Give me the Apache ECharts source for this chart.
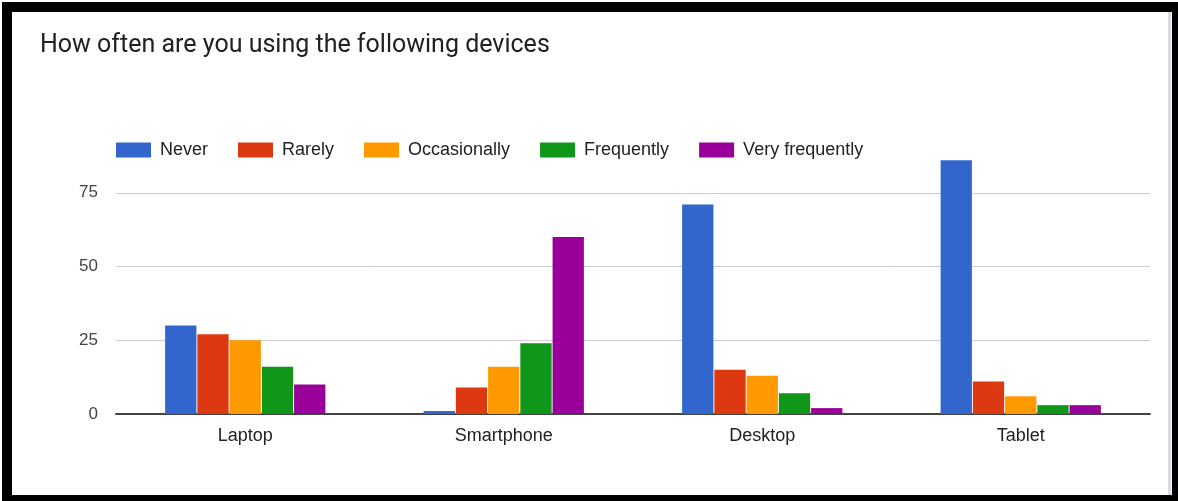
<!DOCTYPE html>
<html>
<head>
<meta charset="utf-8">
<script src="https://cdn.jsdelivr.net/npm/echarts@6/dist/echarts.min.js"></script>
<style>
html, body { margin: 0; padding: 0; background: #fff; }
#main { width: 1178px; height: 501px; }
</style>
</head>
<body>
<div id="main"></div>
<script>
// data
var devices = ['Laptop', 'Smartphone', 'Desktop', 'Tablet'];
var never = [30, 1, 71, 86];
var rarely = [27, 9, 15, 11];
var occasionally = [25, 16, 13, 6];
var frequently = [16, 24, 7, 3];
var veryFrequently = [10, 60, 2, 3];
var yTicks = [0, 25, 50, 75];

var chart = echarts.init(document.getElementById('main'));

function bar(name, data, color) {
    return {
        name: name,
        type: 'bar',
        data: data,
        barGap: '3%',
        barCategoryGap: '38%',
        itemStyle: { color: color }
    };
}

chart.setOption({
    backgroundColor: '#fff',
    animation: false,
    title: {
        text: 'How often are you using the following devices',
        left: 40,
        top: 33,
        padding: 0,
        textStyle: {
            fontFamily: 'Roboto',
            fontSize: 25,
            fontWeight: 'normal',
            color: '#202124'
        }
    },
    legend: {
        left: 116,
        top: 141,
        padding: 0,
        itemWidth: 35,
        itemHeight: 15,
        itemGap: 30,
        icon: 'rect',
        textStyle: {
            fontFamily: 'Liberation Sans',
            fontSize: 18,
            color: '#222',
            padding: [0, 0, 0, 4]
        }
    },
    grid: {
        left: 116,
        right: 28,
        top: 119,
        bottom: 87
    },
    xAxis: {
        type: 'category',
        data: devices,
        axisTick: { show: false },
        axisLine: { lineStyle: { color: '#444', width: 2 } },
        axisLabel: {
            margin: 13,
            fontFamily: 'Liberation Sans',
            fontSize: 18,
            color: '#222'
        }
    },
    yAxis: {
        type: 'value',
        min: yTicks[0],
        max: 100,
        interval: 25,
        axisLine: { show: false },
        axisTick: { show: false },
        axisLabel: {
            showMaxLabel: false,
            margin: 18,
            fontFamily: 'Liberation Sans',
            fontSize: 17,
            color: '#444'
        },
        splitLine: {
            showMaxLine: false,
            lineStyle: { color: '#ccc', width: 1 }
        }
    },
    series: [
        bar('Never', never, '#3366cc'),
        bar('Rarely', rarely, '#dc3912'),
        bar('Occasionally', occasionally, '#ff9900'),
        bar('Frequently', frequently, '#109618'),
        bar('Very frequently', veryFrequently, '#990099')
    ],
    graphic: [
        // black frame around the screenshot
        { type: 'rect', shape: { x: 2, y: 2, width: 1176, height: 10 }, style: { fill: '#000' } },
        { type: 'rect', shape: { x: 2, y: 2, width: 10, height: 499 }, style: { fill: '#000' } },
        { type: 'rect', shape: { x: 1172, y: 2, width: 6, height: 499 }, style: { fill: '#000' } },
        { type: 'rect', shape: { x: 2, y: 495, width: 1176, height: 6 }, style: { fill: '#000' } },
        { type: 'rect', shape: { x: 1168, y: 12, width: 3, height: 483 }, style: { fill: '#dcdce0' } }
    ]
});
</script>
</body>
</html>
